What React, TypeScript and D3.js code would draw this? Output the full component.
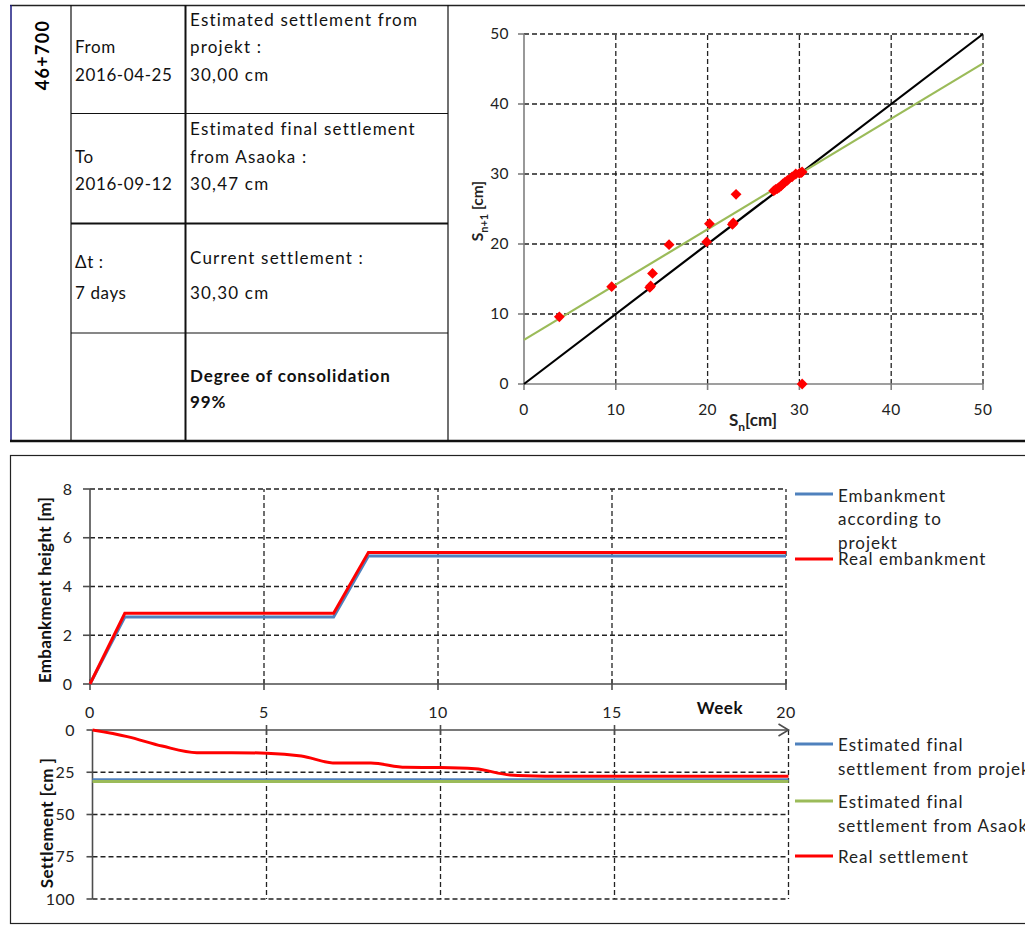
import React, { useRef, useEffect } from 'react';
import * as d3 from 'd3';

// --- table (top left) ---
const station = "46+700";
const periodCol = [["From", "2016-04-25"], ["To", "2016-09-12"], ["\u0394t :", "7 days"], []];
const infoCol = [
  ["Estimated settlement from", "projekt :", "30,00 cm"],
  ["Estimated final settlement", "from Asaoka :", "30,47 cm"],
  ["Current settlement :", "30,30 cm"],
  ["Degree of consolidation", "99%"]
];

// --- Asaoka plot ---
const asaokaSn = [3.85, 9.55, 13.7, 13.8, 14.0, 15.8, 19.9, 20.2, 22.7, 22.8, 23.1, 27.2, 27.4, 27.6, 27.8, 28.0, 28.2, 28.4, 28.7, 29.2, 29.6, 30.0, 30.2, 30.3, 30.3];
const asaokaSn1 = [9.6, 13.9, 13.8, 14.0, 15.8, 19.9, 20.3, 22.9, 22.8, 23.0, 27.1, 27.6, 27.8, 27.9, 28.1, 28.3, 28.6, 28.8, 29.1, 29.6, 30.0, 30.1, 30.2, 30.3, 0];
const identityLine = [[0, 0], [50, 50]];
const asaokaFit = [[0, 6.3], [50, 45.8]];
const asaokaTicks = [0, 10, 20, 30, 40, 50];

// --- embankment height ---
const embWeeks = [0, 1, 7, 8, 20];
const embProjekt = [0, 2.75, 2.75, 5.25, 5.25];
const embReal = [0, 2.9, 2.9, 5.4, 5.4];
const heightTicks = [0, 2, 4, 6, 8];
const weekTicks = [0, 5, 10, 15, 20];

// --- settlement ---
const settleWeeks = [0, 1, 2, 3, 4, 5, 6, 7, 8, 9, 10, 11, 12, 13, 14, 15, 16, 17, 18, 19, 20];
const realSettlement = [0, 3.9, 9.5, 13.4, 13.4, 13.7, 15.4, 19.6, 19.6, 22.1, 22.2, 23.0, 26.6, 27.3, 27.4, 27.4, 27.4, 27.4, 27.4, 27.4, 27.4];
const projektFinal = 29.4;
const asaokaFinal = 30.5;
const settleTicks = [0, 25, 50, 75, 100];

const BLUE = "#4f81bd";
const RED = "#ff0000";
const GREEN = "#9bbb59";
const FONT = "Lato, 'Open Sans', sans-serif";
const DASH = "5,3";

const App = () => {
  const svgRef = useRef(null);

  useEffect(() => {
    const svg = d3.select(svgRef.current);
    svg.selectAll("*").remove();
    svg.style("font-family", FONT);

    // frames
    const frame = svg.append("g").attr("fill", "none");
    frame.append("line").attr("x1", 10).attr("x2", 1025).attr("y1", 5.5).attr("y2", 5.5).attr("stroke", "#222").attr("stroke-width", 1.5);
    frame.append("line").attr("x1", 11).attr("x2", 11).attr("y1", 5).attr("y2", 441).attr("stroke", "#1a1a80").attr("stroke-width", 1.5);
    frame.append("line").attr("x1", 10).attr("x2", 1025).attr("y1", 441).attr("y2", 441).attr("stroke", "#111").attr("stroke-width", 2.5);
    frame.append("rect").attr("x", 10.5).attr("y", 455.5).attr("width", 1030).attr("height", 468).attr("stroke", "#222").attr("stroke-width", 1.2);

    // table
    const tbl = svg.append("g").attr("stroke", "#111");
    tbl.append("line").attr("x1", 71).attr("x2", 71).attr("y1", 5).attr("y2", 441).attr("stroke-width", 1.2);
    tbl.append("line").attr("x1", 185.5).attr("x2", 185.5).attr("y1", 5).attr("y2", 441).attr("stroke-width", 2);
    tbl.append("line").attr("x1", 448).attr("x2", 448).attr("y1", 5).attr("y2", 441).attr("stroke-width", 1.2);
    [[113.5, 1.2], [223.5, 2], [333, 1.2]].forEach(([y, w]) => {
      tbl.append("line").attr("x1", 71).attr("x2", 448).attr("y1", y).attr("y2", y).attr("stroke-width", w);
    });

    svg.append("text")
      .attr("transform", "translate(43,55) rotate(-90)")
      .attr("text-anchor", "middle")
      .attr("dy", "0.35em")
      .style("font-size", "18px").style("font-weight", "bold").style("letter-spacing", "1.3px")
      .text(station);

    const colY = [[47, 75], [157, 184], [262, 293], []];
    periodCol.forEach((lines, r) => {
      lines.forEach((t, i) => {
        svg.append("text").attr("x", 75).attr("y", colY[r][i]).attr("dy", "0.35em")
          .style("font-size", "17px").style("letter-spacing", "0.6px").attr("fill", "#111").text(t);
      });
    });
    const infoY = [[20, 47, 75], [129, 157, 184], [258, 293], [376, 402]];
    infoCol.forEach((lines, r) => {
      lines.forEach((t, i) => {
        svg.append("text").attr("x", 190).attr("y", infoY[r][i]).attr("dy", "0.35em")
          .style("font-size", "17px").style("letter-spacing", r === 3 ? "0.9px" : "1.2px")
          .style("font-weight", r === 3 ? "bold" : "normal")
          .attr("fill", "#111").text(t);
      });
    });

    // ---------- Asaoka scatter ----------
    const sx = d3.scaleLinear().domain([0, 50]).range([524, 983]);
    const sy = d3.scaleLinear().domain([0, 50]).range([384, 34]);
    const sc = svg.append("g");
    const grid = sc.append("g").attr("stroke", "#222").attr("stroke-dasharray", DASH).attr("stroke-width", 1.3);
    asaokaTicks.slice(1).forEach(t => {
      grid.append("line").attr("x1", sx(t)).attr("x2", sx(t)).attr("y1", sy(0)).attr("y2", sy(50));
      grid.append("line").attr("x1", sx(0)).attr("x2", sx(50)).attr("y1", sy(t)).attr("y2", sy(t));
    });
    const ax = sc.append("g").attr("stroke", "#7f7f7f").attr("stroke-width", 1.6);
    ax.append("line").attr("x1", sx(0)).attr("x2", sx(0)).attr("y1", sy(0)).attr("y2", sy(50));
    ax.append("line").attr("x1", sx(0)).attr("x2", sx(50)).attr("y1", sy(0)).attr("y2", sy(0));
    asaokaTicks.forEach(t => {
      ax.append("line").attr("x1", sx(t)).attr("x2", sx(t)).attr("y1", sy(0)).attr("y2", sy(0) + 6);
      ax.append("line").attr("x1", sx(0) - 6).attr("x2", sx(0)).attr("y1", sy(t)).attr("y2", sy(t));
      sc.append("text").attr("x", sx(t)).attr("y", 410).attr("dy", "0.35em").attr("text-anchor", "middle")
        .style("font-size", "15.5px").style("letter-spacing", "0.4px").attr("fill", "#222").text(t);
      sc.append("text").attr("x", 509).attr("y", sy(t)).attr("dy", "0.35em").attr("text-anchor", "end")
        .style("font-size", "15.5px").style("letter-spacing", "0.4px").attr("fill", "#222").text(t);
    });

    const line = d3.line().x(d => sx(d[0])).y(d => sy(d[1]));
    sc.append("path").attr("d", line(identityLine)).attr("stroke", "#000").attr("stroke-width", 2.2).attr("fill", "none");
    sc.append("path").attr("d", line(asaokaFit)).attr("stroke", GREEN).attr("stroke-width", 2.2).attr("fill", "none");

    const diamond = d3.symbol().type(d3.symbolDiamond2).size(75);
    sc.append("g").selectAll("path")
      .data(asaokaSn.map((v, i) => [v, asaokaSn1[i]]))
      .join("path")
      .attr("transform", d => `translate(${sx(d[0])},${sy(d[1])})`)
      .attr("d", diamond)
      .attr("fill", RED);

    const xl = sc.append("text").attr("x", 753).attr("y", 420).attr("dy", "0.35em").attr("text-anchor", "middle")
      .style("font-size", "17px").style("font-weight", "bold").attr("fill", "#222");
    xl.append("tspan").text("S");
    xl.append("tspan").attr("dy", 5).style("font-size", "12px").text("n");
    xl.append("tspan").attr("dy", -5).text("[cm]");
    const yl = sc.append("text").attr("transform", "translate(478,211) rotate(-90)").attr("dy", "0.35em").attr("text-anchor", "middle")
      .style("font-size", "15.5px").style("font-weight", "bold").attr("fill", "#222");
    yl.append("tspan").text("S");
    yl.append("tspan").attr("dy", 5).style("font-size", "11px").text("n+1");
    yl.append("tspan").attr("dy", -5).text(" [cm]");

    // ---------- Embankment height ----------
    const ex = d3.scaleLinear().domain([0, 20]).range([90, 786]);
    const ey = d3.scaleLinear().domain([0, 8]).range([684, 489]);
    const em = svg.append("g");
    const eg = em.append("g").attr("stroke", "#222").attr("stroke-dasharray", DASH).attr("stroke-width", 1.3);
    heightTicks.slice(1).forEach(t => {
      eg.append("line").attr("x1", ex(0)).attr("x2", ex(20)).attr("y1", ey(t)).attr("y2", ey(t));
    });
    weekTicks.slice(1).forEach(t => {
      eg.append("line").attr("x1", ex(t)).attr("x2", ex(t)).attr("y1", ey(0)).attr("y2", ey(8));
    });
    const ea = em.append("g").attr("stroke", "#4d4d4d").attr("stroke-width", 1.6);
    ea.append("line").attr("x1", ex(0)).attr("x2", ex(0)).attr("y1", ey(0)).attr("y2", ey(8));
    ea.append("line").attr("x1", ex(0)).attr("x2", ex(20)).attr("y1", ey(0)).attr("y2", ey(0));
    heightTicks.forEach(t => {
      ea.append("line").attr("x1", ex(0) - 7).attr("x2", ex(0)).attr("y1", ey(t)).attr("y2", ey(t));
      em.append("text").attr("x", 72).attr("y", ey(t)).attr("dy", "0.35em").attr("text-anchor", "end")
        .style("font-size", "16px").attr("fill", "#222").text(t);
    });
    weekTicks.forEach(t => {
      ea.append("line").attr("x1", ex(t)).attr("x2", ex(t)).attr("y1", ey(0) - 5).attr("y2", ey(0) + 6);
      em.append("text").attr("x", ex(t)).attr("y", 712).attr("dy", "0.35em").attr("text-anchor", "middle")
        .style("font-size", "16px").style("letter-spacing", "0.5px").attr("fill", "#222").text(t);
    });
    em.append("text").attr("x", 720).attr("y", 708).attr("dy", "0.35em").attr("text-anchor", "middle")
      .style("font-size", "17px").style("font-weight", "bold").style("letter-spacing", "0.6px").attr("fill", "#111").text("Week");
    em.append("text").attr("transform", "translate(45,590) rotate(-90)").attr("dy", "0.35em").attr("text-anchor", "middle")
      .style("font-size", "17px").style("font-weight", "bold").style("letter-spacing", "0.3px").attr("fill", "#111").text("Embankment height [m]");

    const eline = d3.line().x((d, i) => ex(embWeeks[i])).y(d => ey(d));
    em.append("path").attr("d", eline(embProjekt)).attr("stroke", BLUE).attr("stroke-width", 3).attr("fill", "none");
    em.append("path").attr("d", eline(embReal)).attr("stroke", RED).attr("stroke-width", 3).attr("fill", "none");

    // legend
    const leg1 = svg.append("g").style("font-size", "17px").style("letter-spacing", "1px").attr("fill", "#222");
    leg1.append("line").attr("x1", 795).attr("x2", 833).attr("y1", 494).attr("y2", 494).attr("stroke", BLUE).attr("stroke-width", 3);
    ["Embankment", "according to", "projekt"].forEach((t, i) => {
      leg1.append("text").attr("x", 838).attr("y", 496 + i * 23.5).attr("dy", "0.35em").text(t);
    });
    leg1.append("line").attr("x1", 795).attr("x2", 833).attr("y1", 559).attr("y2", 559).attr("stroke", RED).attr("stroke-width", 3);
    leg1.append("text").attr("x", 838).attr("y", 559).attr("dy", "0.35em").text("Real embankment");

    // ---------- Settlement ----------
    const tx = d3.scaleLinear().domain([0, 20]).range([92.5, 788.5]);
    const ty = d3.scaleLinear().domain([0, 100]).range([730, 899]);
    const st = svg.append("g");
    const sg = st.append("g").attr("stroke", "#222").attr("stroke-dasharray", DASH).attr("stroke-width", 1.3);
    settleTicks.slice(1).forEach(t => {
      sg.append("line").attr("x1", tx(0)).attr("x2", tx(20)).attr("y1", ty(t)).attr("y2", ty(t));
    });
    weekTicks.slice(1).forEach(t => {
      sg.append("line").attr("x1", tx(t)).attr("x2", tx(t)).attr("y1", ty(0)).attr("y2", ty(100));
    });
    const sa = st.append("g").attr("stroke", "#4d4d4d").attr("stroke-width", 1.6).attr("fill", "none");
    sa.append("line").attr("x1", tx(0)).attr("x2", tx(0)).attr("y1", ty(0)).attr("y2", ty(100));
    sa.append("line").attr("x1", tx(0)).attr("x2", tx(20)).attr("y1", ty(0)).attr("y2", ty(0));
    sa.append("path").attr("d", `M${tx(20) - 10},${ty(0) - 6}L${tx(20)},${ty(0)}L${tx(20) - 10},${ty(0) + 6}`);
    settleTicks.forEach(t => {
      sa.append("line").attr("x1", tx(0) - 6).attr("x2", tx(0)).attr("y1", ty(t)).attr("y2", ty(t));
      st.append("text").attr("x", 75).attr("y", ty(t)).attr("dy", "0.35em").attr("text-anchor", "end")
        .style("font-size", "16px").style("letter-spacing", "0.5px").attr("fill", "#222").text(t);
    });
    weekTicks.slice(1, 4).forEach(t => {
      sa.append("line").attr("x1", tx(t)).attr("x2", tx(t)).attr("y1", ty(0) - 5).attr("y2", ty(0) + 5);
    });
    st.append("text").attr("transform", "translate(47,823) rotate(-90)").attr("dy", "0.35em").attr("text-anchor", "middle")
      .style("font-size", "17px").style("font-weight", "bold").style("letter-spacing", "0.4px").attr("fill", "#111").text("Settlement [cm ]");

    st.append("line").attr("x1", tx(0)).attr("x2", tx(20)).attr("y1", ty(projektFinal)).attr("y2", ty(projektFinal))
      .attr("stroke", BLUE).attr("stroke-width", 3);
    st.append("line").attr("x1", tx(0)).attr("x2", tx(20)).attr("y1", ty(asaokaFinal)).attr("y2", ty(asaokaFinal))
      .attr("stroke", GREEN).attr("stroke-width", 3);
    const sline = d3.line().x((d, i) => tx(settleWeeks[i])).y(d => ty(d)).curve(d3.curveMonotoneX);
    st.append("path").attr("d", sline(realSettlement)).attr("stroke", RED).attr("stroke-width", 3).attr("fill", "none");

    const leg2 = svg.append("g").style("font-size", "17px").style("letter-spacing", "1px").attr("fill", "#222");
    [
      [BLUE, 744, ["Estimated final", "settlement from projekt"]],
      [GREEN, 801, ["Estimated final", "settlement from Asaoka"]],
      [RED, 856, ["Real settlement"]]
    ].forEach(([c, y, lines]) => {
      leg2.append("line").attr("x1", 795).attr("x2", 833).attr("y1", y).attr("y2", y).attr("stroke", c).attr("stroke-width", 3);
      lines.forEach((t, i) => {
        leg2.append("text").attr("x", 838).attr("y", y + 1 + i * 24.5).attr("dy", "0.35em").text(t);
      });
    });
  }, []);

  return (
    <svg ref={svgRef} width={1025} height={926}
      style={{ position: "absolute", left: 0, top: 0, background: "#fff" }} />
  );
};

export default App;
